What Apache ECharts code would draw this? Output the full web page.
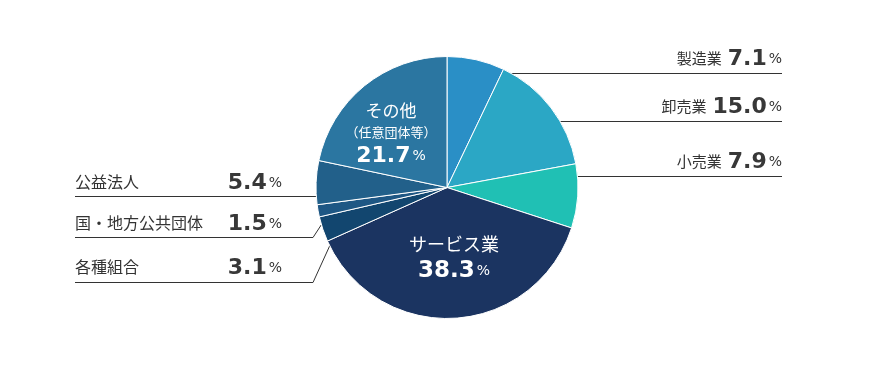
<!DOCTYPE html>
<html><head><meta charset="utf-8">
<script src="https://cdn.jsdelivr.net/npm/echarts@6/dist/echarts.min.js"></script>
<style>html,body{margin:0;padding:0;background:#fff}#c{width:896px;height:368px}</style>
</head><body><div id="c"></div>
<script>
const categories = ['製造業','卸売業','小売業','サービス業','各種組合','国・地方公共団体','公益法人','その他'];
const values = [7.1, 15.0, 7.9, 38.3, 3.1, 1.5, 5.4, 21.7];
const valueLabels = ['7.1','15.0','7.9','38.3','3.1','1.5','5.4','21.7'];
const colors = ['#2a8fc6','#2ba7c5','#20c0b4','#1b3461','#12466f','#1e5784','#22608a','#2b76a1'];

// label placement (annotation layout only)
const JP = '"Noto Sans CJK JP", "Noto Sans", sans-serif';
const NUM = '"DejaVu Sans", sans-serif';
const layouts = [
  {kind:'right', x:782, y:73, pts:[[480,73.5],[782,73.5]]},
  {kind:'right', x:782, y:121, pts:[[525,121.5],[782,121.5]]},
  {kind:'right', x:782, y:176, pts:[[545,176.5],[782,176.5]]},
  {kind:'inner', x:454, y:259},
  {kind:'left', x:75, y:282, pts:[[336,232],[313,282.5],[75,282.5]]},
  {kind:'left', x:75, y:238, pts:[[331,210],[313,237.5],[75,237.5]]},
  {kind:'left', x:75, y:197, pts:[[327,196.5],[75,196.5]]},
  {kind:'inner', x:391, y:135}
];

const rich = {
  n:{fontFamily:JP, fontSize:15, color:'#333', padding:[0,6,2,0]},
  ln:{fontFamily:JP, fontSize:16, color:'#333', align:'left', padding:[0,0,2,0]},
  v:{fontFamily:NUM, fontSize:22, fontWeight:'bold', color:'#383838', align:'right', lineHeight:28},
  p:{fontFamily:NUM, fontSize:14, color:'#333', align:'right', padding:[0,0,0,2]},
  ia:{fontFamily:JP, fontSize:17, color:'#fff', lineHeight:21},
  ib:{fontFamily:JP, fontSize:13, color:'#fff', lineHeight:22},
  iv:{fontFamily:NUM, fontSize:22, fontWeight:'bold', color:'#fff', lineHeight:27},
  ip:{fontFamily:NUM, fontSize:14, color:'#fff', padding:[0,0,0,2]},
  sa:{fontFamily:JP, fontSize:18, color:'#fff', lineHeight:25},
  sv:{fontFamily:NUM, fontSize:23, fontWeight:'bold', color:'#fff', lineHeight:29}
};

function fmt(p){
  const i = p.dataIndex, L = layouts[i], v = valueLabels[i];
  if (L.kind === 'right') return '{n|' + categories[i] + '}{v|' + v + '}{p|%}';
  if (L.kind === 'left') return '{ln|' + categories[i] + '}{v|' + v + '}{p|%}';
  if (i === 7) return '{ia|その他}\n{ib|（任意団体等）}\n{iv|' + v + '}{ip|%}';
  return '{sa|' + categories[i] + '}\n{sv|' + v + '}{ip|%}';
}

const data = categories.map((c, i) => {
  const item = {name:c, value:values[i], itemStyle:{color:colors[i]}};
  if (layouts[i].kind === 'inner') item.labelLine = {show:false};
  if (layouts[i].kind === 'left') item.label = {width:207, align:'left'};
  return item;
});

const chart = echarts.init(document.getElementById('c'));
chart.setOption({
  animation:false,
  series:[{
    type:'pie',
    center:[447,187.5],
    radius:131,
    startAngle:90,
    clockwise:true,
    avoidLabelOverlap:false,
    itemStyle:{borderColor:'#fff', borderWidth:1},
    label:{show:true, position:'outside', formatter:fmt, rich:rich, align:'center'},
    labelLine:{show:true, lineStyle:{color:'#333', width:1}},
    labelLayout:function(params){
      const L = layouts[params.dataIndex];
      if (L.kind === 'inner') return {x:L.x, y:L.y, align:'center', verticalAlign:'middle'};
      if (L.kind === 'right') return {x:L.x, y:L.y, align:'right', verticalAlign:'bottom', labelLinePoints:L.pts};
      return {x:L.x, y:L.y, align:'left', verticalAlign:'bottom', labelLinePoints:L.pts};
    },
    data:data
  }]
});
</script></body></html>
